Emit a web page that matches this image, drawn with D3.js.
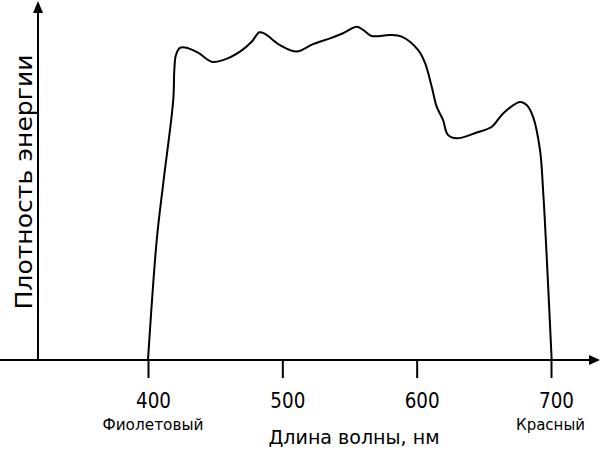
<!DOCTYPE html>
<html><head><meta charset="utf-8">
<script src="https://cdn.jsdelivr.net/npm/d3@7"></script>
<style>html,body{margin:0;padding:0;background:#fff}svg{display:block}</style>
</head><body>
<svg id="c" width="600" height="450"></svg>
<script>
// Data
const wavelengths = [400, 406.5, 411.4, 418.8, 419.6, 420.8, 423.8, 427.5, 437.2, 447.4, 455.8, 468.5, 477.2, 482.9, 487.1, 498.3, 510.7, 522.8, 535.5, 545.2, 555.4, 560.1, 566.5, 580.2, 588.9, 601.0, 606.2, 611.2, 614.9, 619.6, 623.3, 629.8, 644.7, 655.9, 664.5, 676.9, 681.9, 686.6, 691.8, 694.1, 696.8, 700.5];
const energy = [0, 35.3, 52.1, 76.5, 85.3, 89.7, 91.8, 91.9, 90.4, 87.7, 88.2, 90.7, 93.6, 96.4, 95.9, 92.6, 90.7, 92.9, 94.6, 96.1, 98.0, 97.1, 95.3, 95.6, 95.1, 91.2, 87.4, 80.4, 74.5, 70.6, 66.2, 65.2, 66.9, 68.6, 72.6, 75.9, 75.0, 71.6, 61.8, 50.0, 30.4, 0];
const tickValues = [400, 500, 600, 700];
const tickLabels = ["400", "500", "600", "700"];
const colorNames = [{wl: 400, name: "Фиолетовый"}, {wl: 700, name: "Красный"}];
const xTitle = "Длина волны,  нм";
const yTitle = "Плотность  энергии";

const svg = d3.select("#c");
const x = d3.scaleLinear().domain([400, 700]).range([148, 551]);
const y = d3.scaleLinear().domain([0, 100]).range([360, 20]);
const font = "'DejaVu Sans', sans-serif";

// axes lines with arrows
svg.append("line").attr("x1", 0).attr("x2", 592).attr("y1", y(0)).attr("y2", y(0))
  .attr("stroke", "#000").attr("stroke-width", 2);
svg.append("path").attr("d", `M600,${y(0)} L589,${y(0)-5} L589,${y(0)+5} Z`).attr("fill", "#000");
svg.append("line").attr("x1", 38).attr("x2", 38).attr("y1", y(0)).attr("y2", 10)
  .attr("stroke", "#000").attr("stroke-width", 2);
svg.append("path").attr("d", `M38,1 L33,13 L43,13 Z`).attr("fill", "#000");

// ticks
const xAxis = d3.axisBottom(x).tickValues(tickValues).tickSize(18).tickFormat((d, i) => tickLabels[i]);
const gx = svg.append("g").attr("transform", `translate(0,${y(0)})`).call(xAxis);
gx.select(".domain").remove();
gx.selectAll(".tick line").attr("stroke", "#000").attr("stroke-width", 2);
gx.selectAll(".tick text").attr("y", 48).attr("dy", 0).attr("dx", 5)
  .attr("font-family", font).attr("font-size", 21).attr("fill", "#000")
  .attr("textLength", 35).attr("lengthAdjust", "spacingAndGlyphs");

// color names
svg.selectAll("text.cn").data(colorNames).join("text").attr("class", "cn")
  .attr("x", (d, i) => x(d.wl) + (i === 0 ? 5 : -0.5)).attr("y", 430)
  .attr("text-anchor", "middle").attr("font-family", font).attr("font-size", 15)
  .attr("textLength", (d, i) => i === 0 ? 101 : 69).attr("lengthAdjust", "spacingAndGlyphs")
  .text(d => d.name);

// titles
svg.append("text").attr("x", 354).attr("y", 444).attr("text-anchor", "middle")
  .attr("font-family", font).attr("font-size", 20)
  .attr("textLength", 171).attr("lengthAdjust", "spacingAndGlyphs").text(xTitle);
svg.append("text").attr("transform", "translate(32,182) rotate(-90)").attr("text-anchor", "middle")
  .attr("font-family", font).attr("font-size", 23)
  .attr("textLength", 255).attr("lengthAdjust", "spacingAndGlyphs").text(yTitle);

// curve
const pts = wavelengths.map((w, i) => [w, energy[i]]);
const line = d3.line().x(d => x(d[0])).y(d => y(d[1])).curve(d3.curveCatmullRom.alpha(0.5));
svg.append("path").datum(pts).attr("d", line).attr("fill", "none")
  .attr("stroke", "#000").attr("stroke-width", 2).attr("stroke-linejoin", "round");
</script>
</body></html>
